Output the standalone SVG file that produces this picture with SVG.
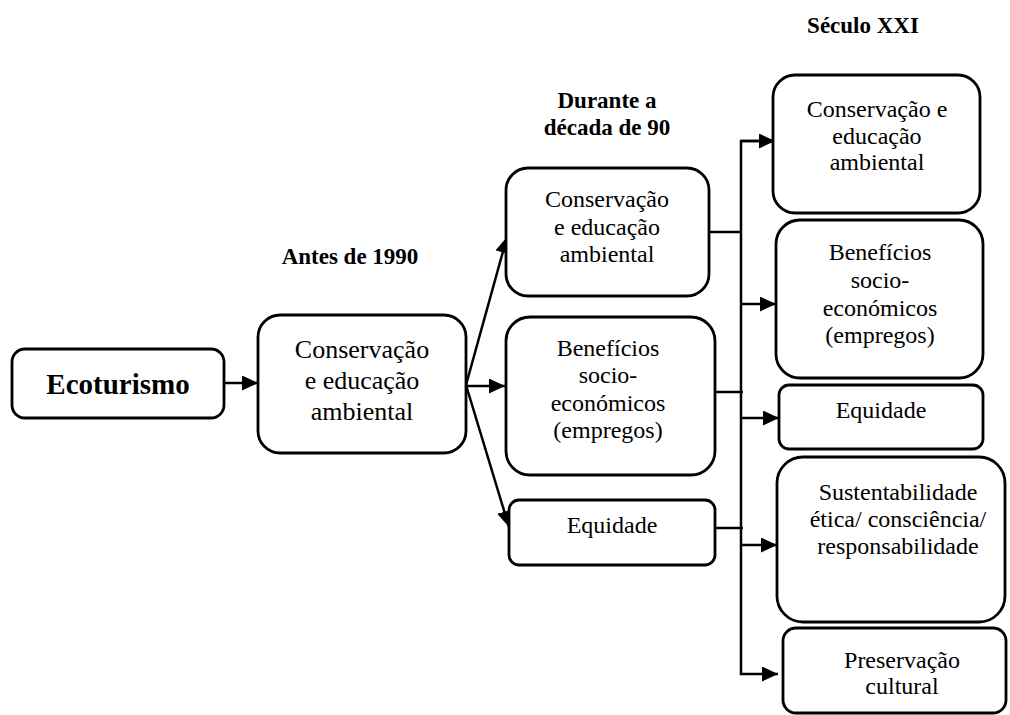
<svg xmlns="http://www.w3.org/2000/svg" width="1010" height="715" viewBox="0 0 1010 715">
<defs>
<style>
.box{fill:#fff;stroke:#000;stroke-width:2.8}
.t{font-family:'Liberation Serif','Times New Roman','DejaVu Serif',serif;font-size:24px;fill:#000;text-anchor:middle}
.b{font-family:'Liberation Serif','Times New Roman','DejaVu Serif',serif;font-weight:bold;font-size:23px;fill:#000;text-anchor:middle}
.c{fill:none;stroke:#000;stroke-width:2.5}
</style>
<marker id="ah" markerUnits="userSpaceOnUse" markerWidth="16" markerHeight="15" refX="16" refY="7.5" orient="auto">
<path d="M0,0 L16,7.5 L0,15 Z" fill="#000"/>
</marker>
</defs>
<rect width="1010" height="715" fill="#fff"/>

<g id="headers">
<text class="b" x="350" y="264">Antes de 1990</text>
<text class="b" x="607" y="108">Durante a</text>
<text class="b" x="607" y="135">década de 90</text>
<text class="b" x="863" y="33">Século XXI</text>
</g>

<g id="connectors">
<line class="c" x1="224" y1="383" x2="258" y2="383" marker-end="url(#ah)"/>
<line class="c" x1="466" y1="385" x2="507" y2="237" marker-end="url(#ah)"/>
<line class="c" x1="466" y1="386" x2="505" y2="386" marker-end="url(#ah)"/>
<line class="c" x1="466" y1="385" x2="509" y2="527" marker-end="url(#ah)"/>
<line class="c" x1="709" y1="232" x2="741" y2="232"/>
<line class="c" x1="715" y1="392" x2="743" y2="392"/>
<line class="c" x1="715" y1="528" x2="743" y2="528"/>
<polyline class="c" points="775,141 741,141 741,674 778,674" marker-end="url(#ah)"/>
<line class="c" x1="741" y1="141" x2="775" y2="141" marker-end="url(#ah)"/>
<line class="c" x1="741" y1="304" x2="776" y2="304" marker-end="url(#ah)"/>
<line class="c" x1="741" y1="418" x2="779" y2="418" marker-end="url(#ah)"/>
<line class="c" x1="741" y1="545" x2="777" y2="545" marker-end="url(#ah)"/>
</g>

<g id="ecoturismo">
<rect class="box" x="12" y="349" width="212" height="69" rx="13"/>
<text class="b" x="118" y="394" style="font-size:29px">Ecoturismo</text>
</g>

<g id="antes">
<rect class="box" x="258" y="315" width="208" height="138" rx="22"/>
<text class="t" x="362" y="358" style="font-size:26px">Conservação</text>
<text class="t" x="362" y="389" style="font-size:26px">e educação</text>
<text class="t" x="362" y="420" style="font-size:26px">ambiental</text>
</g>

<g id="d90-conservacao">
<rect class="box" x="506" y="168" width="203" height="128" rx="22"/>
<text class="t" x="607" y="207">Conservação</text>
<text class="t" x="607" y="235">e educação</text>
<text class="t" x="607" y="262">ambiental</text>
</g>

<g id="d90-beneficios">
<rect class="box" x="506" y="317" width="209" height="158" rx="24"/>
<text class="t" x="608" y="356">Benefícios</text>
<text class="t" x="608" y="383">socio-</text>
<text class="t" x="608" y="411">económicos</text>
<text class="t" x="608" y="438">(empregos)</text>
</g>

<g id="d90-equidade">
<rect class="box" x="509" y="500" width="206" height="65" rx="10"/>
<text class="t" x="612" y="533">Equidade</text>
</g>

<g id="xxi-conservacao">
<rect class="box" x="773" y="75" width="207" height="138" rx="22"/>
<text class="t" x="877" y="117">Conservação e</text>
<text class="t" x="877" y="144">educação</text>
<text class="t" x="877" y="170">ambiental</text>
</g>

<g id="xxi-beneficios">
<rect class="box" x="776" y="220" width="207" height="158" rx="24"/>
<text class="t" x="880" y="260">Benefícios</text>
<text class="t" x="880" y="288">socio-</text>
<text class="t" x="880" y="316">económicos</text>
<text class="t" x="880" y="343">(empregos)</text>
</g>

<g id="xxi-equidade">
<rect class="box" x="779" y="385" width="204" height="64" rx="10"/>
<text class="t" x="881" y="418">Equidade</text>
</g>

<g id="xxi-sustentabilidade">
<rect class="box" x="777" y="457" width="228" height="165" rx="26"/>
<text class="t" x="898" y="500">Sustentabilidade</text>
<text class="t" x="898" y="527">ética/ consciência/</text>
<text class="t" x="898" y="554">responsabilidade</text>
</g>

<g id="xxi-preservacao">
<rect class="box" x="783" y="628" width="223" height="85" rx="13"/>
<text class="t" x="902" y="668">Preservação</text>
<text class="t" x="902" y="694">cultural</text>
</g>
</svg>
